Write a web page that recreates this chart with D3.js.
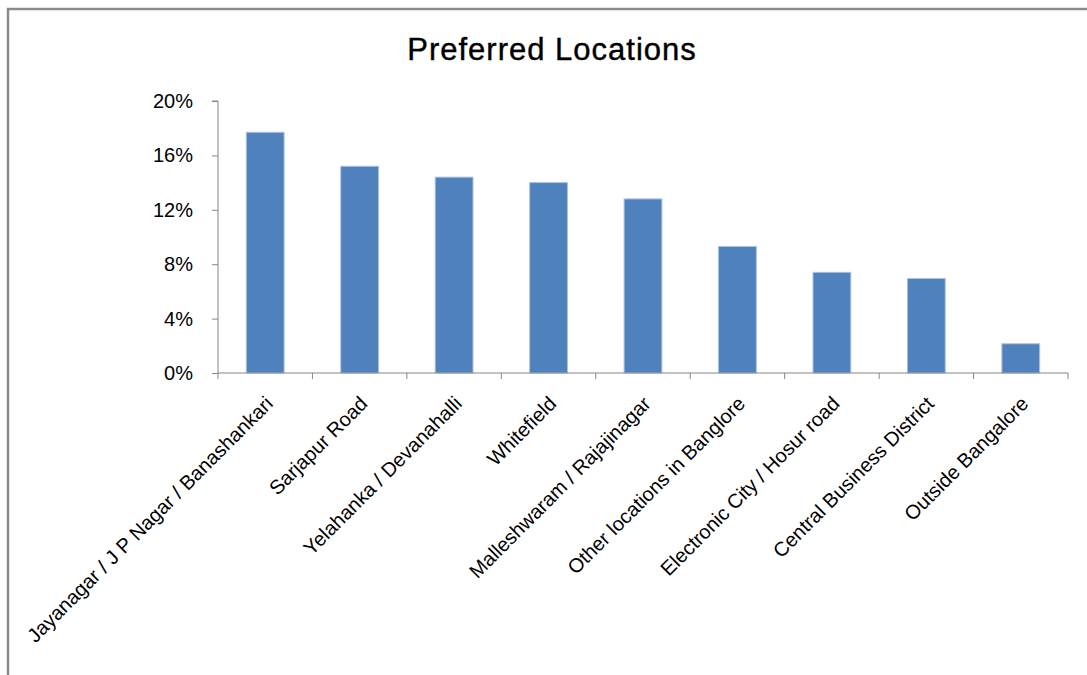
<!DOCTYPE html>
<html>
<head>
<meta charset="utf-8">
<script src="https://cdn.jsdelivr.net/npm/d3@7"></script>
<style>
  body { margin: 0; background: #fff; }
  svg { display: block; font-family: "Liberation Sans", Arial, sans-serif; }
</style>
</head>
<body>
<div class="Canvas"></div>
<script>
// Chart data.
const categories = [
    'Jayanagar / J P Nagar / Banashankari',
    'Sarjapur Road',
    'Yelahanka / Devanahalli',
    'Whitefield',
    'Malleshwaram / Rajajinagar',
    'Other locations in Banglore',
    'Electronic City / Hosur road',
    'Central Business District',
    'Outside Bangalore'
];
const values = [0.177, 0.152, 0.144, 0.140, 0.128, 0.093, 0.074, 0.0695, 0.0215];
const yTicks = [0, 0.04, 0.08, 0.12, 0.16, 0.20];
const title = 'Preferred Locations';

const width = 1087;
const height = 675;
const plotLeft = 218, plotRight = 1068, plotTop = 101, plotBottom = 373;
const axisColor = '#868686';

const svg = d3.select('.Canvas').append('svg')
    .attr('width', width)
    .attr('height', height);

// Outer frame of the chart area (left and top edges visible).
svg.append('path')
    .attr('d', `M8,${height} L8,9 L${width},9`)
    .attr('fill', 'none')
    .attr('stroke', '#8a8a8a')
    .attr('stroke-width', 2.5);

svg.append('text')
    .attr('x', 552)
    .attr('y', 60)
    .attr('text-anchor', 'middle')
    .attr('font-size', '31px')
    .attr('letter-spacing', '1px')
    .attr('stroke', '#000')
    .attr('stroke-width', 0.4)
    .attr('fill', '#000')
    .text(title);

const x = d3.scaleBand()
    .domain(categories)
    .range([plotLeft, plotRight])
    .paddingInner(0.6)
    .paddingOuter(0.3);

const y = d3.scaleLinear()
    .domain([0, 0.2])
    .range([plotBottom, plotTop]);

// Bars
svg.append('g')
    .selectAll('rect')
    .data(values)
    .enter()
    .append('rect')
    .attr('x', (d, i) => x(categories[i]))
    .attr('y', (d) => y(d))
    .attr('width', x.bandwidth())
    .attr('height', (d) => y(0) - y(d))
    .attr('fill', '#4F81BD')
    .attr('stroke', '#A9C1E0')
    .attr('stroke-width', 1);

// Y axis
const yAxis = svg.append('g')
    .attr('transform', `translate(${plotLeft},0)`)
    .call(d3.axisLeft(y).tickValues(yTicks).tickFormat(d3.format('.0%')).tickSize(6).tickPadding(19));
yAxis.select('.domain').attr('stroke', axisColor).attr('d', `M-6,${plotTop}H0V${plotBottom}`);
yAxis.selectAll('.tick line').attr('stroke', axisColor);
yAxis.selectAll('.tick text')
    .attr('font-size', '20px')
    .attr('font-family', '"Liberation Sans", Arial, sans-serif')
    .attr('fill', '#000');

// X axis line with ticks at category boundaries
const xg = svg.append('g');
xg.append('line')
    .attr('x1', plotLeft).attr('x2', plotRight)
    .attr('y1', plotBottom).attr('y2', plotBottom)
    .attr('stroke', axisColor);
const bounds = categories.map((c) => x(c) + x.bandwidth() / 2 - x.step() / 2);
bounds.push(plotRight);
xg.selectAll('line.tick')
    .data(bounds)
    .enter()
    .append('line')
    .attr('class', 'tick')
    .attr('x1', (d) => d).attr('x2', (d) => d)
    .attr('y1', plotBottom).attr('y2', plotBottom + 6)
    .attr('stroke', axisColor);

// Rotated category labels
xg.selectAll('text')
    .data(categories)
    .enter()
    .append('text')
    .attr('transform', (d) => `translate(${x(d) + x.bandwidth() / 2 + 4},${plotBottom + 27}) rotate(-45)`)
    .attr('text-anchor', 'end')
    .attr('dy', '0.35em')
    .attr('font-size', '20px')
    .attr('fill', '#000')
    .text((d) => d);
</script>
</body>
</html>
